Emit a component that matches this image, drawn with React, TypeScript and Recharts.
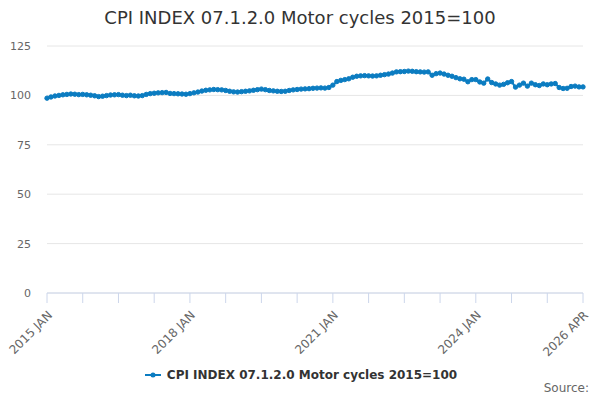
import { LineChart, Line, XAxis, YAxis, CartesianGrid, Legend } from 'recharts';

// CPI INDEX 07.1.2.0 Motor cycles, monthly, 2015 JAN .. 2026 APR
const monthNames = ['JAN', 'FEB', 'MAR', 'APR', 'MAY', 'JUN', 'JUL', 'AUG', 'SEP', 'OCT', 'NOV', 'DEC'];

const cpiValues = [
  // 2015
  98.6, 99.2, 99.7, 100.0, 100.3, 100.5, 100.7, 100.6, 100.4, 100.5, 100.3, 100.1,
  // 2016
  99.8, 99.4, 99.6, 99.9, 100.2, 100.3, 100.4, 100.1, 99.9, 100.1, 99.8, 99.7,
  // 2017
  99.9, 100.5, 100.9, 101.1, 101.3, 101.4, 101.5, 101.0, 100.9, 100.8, 100.7, 100.6,
  // 2018
  100.9, 101.3, 101.7, 102.2, 102.6, 102.8, 103.0, 102.9, 102.8, 102.5, 102.1, 101.8,
  // 2019
  101.7, 101.9, 102.1, 102.3, 102.6, 102.9, 103.2, 102.9, 102.5, 102.3, 102.1, 102.0,
  // 2020
  102.1, 102.5, 102.8, 103.0, 103.2, 103.3, 103.4, 103.6, 103.7, 103.8, 103.7, 104.0,
  // 2021
  105.2, 107.0, 107.6, 108.0, 108.4, 109.2, 109.7, 109.9, 110.0, 109.9, 109.8, 109.9,
  // 2022
  110.2, 110.5, 110.8, 111.3, 111.9, 112.0, 112.1, 112.3, 112.2, 112.0, 111.9, 111.8,
  // 2023
  111.9, 110.2, 111.0, 111.3, 110.8, 110.2, 109.7, 109.0, 108.4, 108.2, 106.9, 108.0,
  // 2024
  108.0, 106.8, 106.2, 108.3, 106.5, 105.8, 105.2, 105.6, 106.4, 107.0, 104.2, 105.2,
  // 2025
  106.2, 104.7, 106.2, 105.4, 105.0, 105.8, 105.4, 105.8, 106.0, 104.0, 103.5, 103.6,
  // 2026
  104.5, 104.7, 104.3, 104.3,
];

const xTicks = [0, 9, 18, 27, 36, 45, 54, 63, 72, 81, 90, 99, 108, 117, 126, 135];
const xTickLabels: Record<number, string> = {
  0: '2015 JAN',
  36: '2018 JAN',
  72: '2021 JAN',
  108: '2024 JAN',
  135: '2026 APR',
};
const yTicks = [0, 25, 50, 75, 100, 125];

const seriesName = 'CPI INDEX 07.1.2.0 Motor cycles 2015=100';
const lineColor = '#0b7cc1';
const font = '"DejaVu Sans", sans-serif';

const data = cpiValues.map((value, i) => ({
  i,
  month: `${2015 + Math.floor(i / 12)} ${monthNames[i % 12]}`,
  value,
}));

function XTick({ x, y, payload }: any) {
  const label = xTickLabels[payload.value];
  if (!label) return null;
  const tx = x + 6;
  const ty = y + 11;
  return (
    <text
      x={tx}
      y={ty}
      transform={`rotate(-45, ${tx}, ${ty})`}
      textAnchor="end"
      fontSize={12}
      fill="#666"
      fontFamily={font}
    >
      {label}
    </text>
  );
}

function LegendContent() {
  return (
    <div
      style={{
        display: 'flex',
        justifyContent: 'center',
        alignItems: 'center',
        fontFamily: font,
        fontSize: 12,
        fontWeight: 'bold',
        color: '#333',
      }}
    >
      <svg width={16} height={10} style={{ marginRight: 6 }}>
        <line x1={0} y1={5} x2={16} y2={5} stroke={lineColor} strokeWidth={2} />
        <circle cx={8} cy={5} r={2.5} fill={lineColor} />
      </svg>
      {seriesName}
    </div>
  );
}

export default function App() {
  return (
    <div style={{ position: 'absolute', left: 0, top: 0, width: 600, height: 400, background: '#fff' }}>
      <div
        style={{
          position: 'absolute',
          top: 7,
          width: 600,
          textAlign: 'center',
          fontFamily: font,
          fontSize: 18,
          color: '#333',
        }}
      >
        {seriesName}
      </div>
      <LineChart width={600} height={400} data={data} margin={{ top: 46, right: 17, bottom: 63, left: 0 }}>
        <CartesianGrid vertical={false} stroke="#e6e6e6" />
        <XAxis
          dataKey="i"
          type="number"
          domain={[0, 135]}
          ticks={xTicks}
          interval={0}
          tick={<XTick />}
          tickSize={10}
          height={30}
          axisLine={{ stroke: '#ccd6eb' }}
          tickLine={{ stroke: '#ccd6eb' }}
        />
        <YAxis
          type="number"
          domain={[0, 125]}
          ticks={yTicks}
          width={47}
          axisLine={false}
          tickLine={false}
          tickSize={0}
          tickMargin={16}
          tick={{ fontSize: 11, fill: '#666', fontFamily: font }}
        />
        <Legend
          verticalAlign="bottom"
          wrapperStyle={{ bottom: 18, left: 1, width: 600 }}
          content={<LegendContent />}
        />
        <Line
          dataKey="value"
          name={seriesName}
          stroke={lineColor}
          strokeWidth={2}
          dot={{ r: 2.2, fill: lineColor, stroke: lineColor, strokeWidth: 1 }}
          isAnimationActive={false}
        />
      </LineChart>
      <div
        style={{
          position: 'absolute',
          right: 11,
          top: 381,
          fontFamily: font,
          fontSize: 12,
          color: '#666',
        }}
      >
        Source:
      </div>
    </div>
  );
}
